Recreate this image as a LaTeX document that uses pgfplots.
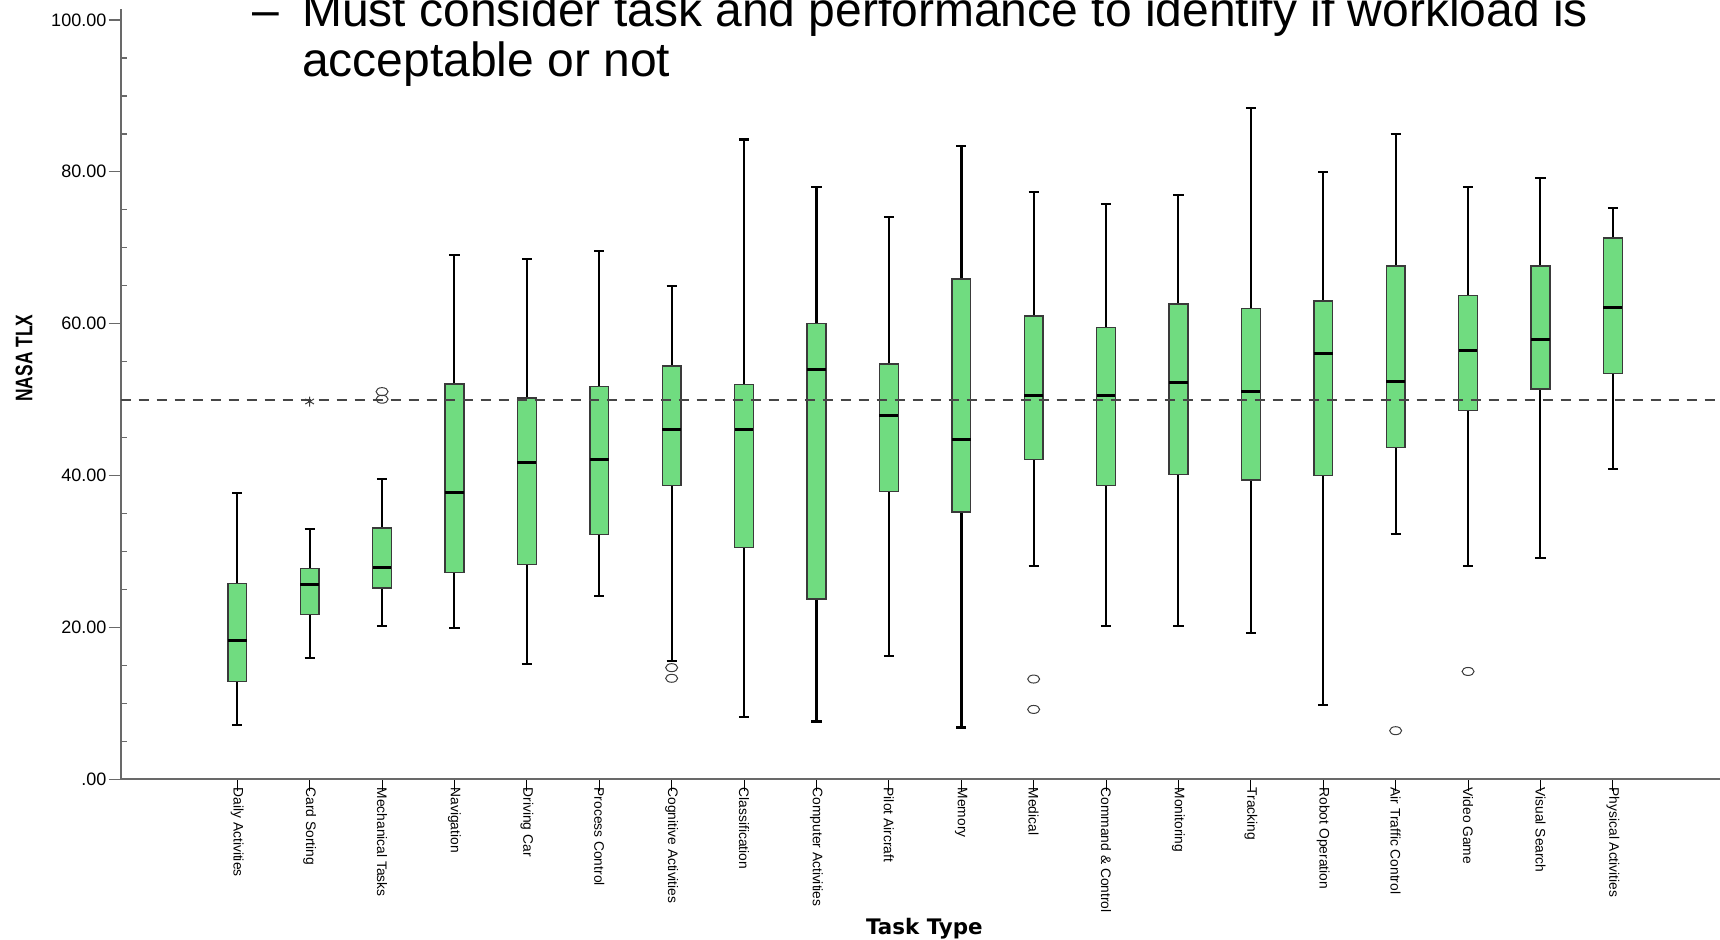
\documentclass[border=0pt]{standalone}
\usepackage{fontspec}
\setmainfont{Liberation Sans}
\newfontfamily\dejavu{DejaVu Sans}
\usepackage{pgfplots}
\pgfplotsset{compat=1.18}
\usepgfplotslibrary{statistics}
\definecolor{boxgreen}{RGB}{112,220,128}
\definecolor{boxgray}{RGB}{58,58,58}
\definecolor{axgray}{RGB}{105,105,105}
\definecolor{dashgray}{RGB}{70,70,70}
\definecolor{outgray}{RGB}{60,60,60}
\begin{document}
\begin{tikzpicture}
\useasboundingbox (-60.35pt,-80.35pt) rectangle (799.65pt,389.65pt);
\clip (-60.35pt,-80.35pt) rectangle (799.65pt,389.65pt);
\begin{axis}[
  at={(0,0)}, anchor=south west,
  scale only axis, width=799.65pt, height=385pt,
  xmin=-0.61, xmax=21.48, ymin=0, ymax=101.4,
  axis lines*=left,
  axis line style={draw=axgray, line width=1pt},
  tick style={draw=axgray, line width=0.7pt},
  tick align=outside,
  xtick={1,...,20},
  xticklabels={Daily Activities, Card Sorting, Mechanical Tasks, Navigation, Driving Car, Process Control, Cognitive Activities, Classification, Computer Activities, Pilot Aircraft, Memory, Medical, Command \& Control, Monitoring, Tracking, Robot Operation, Air Traffic Control, Video Game, Visual Search, Physical Activities},
  xticklabel style={rotate=-90, anchor=west, font=\fontsize{6.9}{7}\selectfont, inner sep=1pt},
  xticklabel shift=-3pt,
  x tick style={draw=black, line width=0.5pt},
  xtick pos=bottom,
  ytick={0,20,40,60,80,100},
  yticklabels={.00,20.00,40.00,60.00,80.00,100.00},
  yticklabel style={font=\fontsize{9}{10}\selectfont, inner sep=1pt},
  ytick pos=left,
  major tick length=6pt,
  extra y ticks={5,10,15,25,30,35,45,50,55,65,70,75,85,90,95},
  extra y tick labels={},
  extra y tick style={tick align=inside, major tick length=3pt},
  boxplot/draw direction=y,
  boxplot/box extend=0.26,
  boxplot/whisker extend=0.14,
  boxplot/every box/.style={draw=boxgray, line width=0.7pt, fill=boxgreen},
  boxplot/every median/.style={draw=black, line width=1.5pt},
  boxplot/every whisker/.style={draw=black, line width=1pt},
  clip=false,
]
\addplot[boxplot prepared={draw position=1, lower whisker=7.2, lower quartile=12.85, median=18.3, upper quartile=25.8, upper whisker=37.7}] coordinates {};
\addplot[boxplot prepared={draw position=2, lower whisker=16.0, lower quartile=21.7, median=25.6, upper quartile=27.75, upper whisker=33.0}] coordinates {};
\addplot[boxplot prepared={draw position=3, lower whisker=20.2, lower quartile=25.2, median=27.9, upper quartile=33.1, upper whisker=39.5}] coordinates {};
\addplot[boxplot prepared={draw position=4, lower whisker=19.9, lower quartile=27.2, median=37.8, upper quartile=52.05, upper whisker=69.0}] coordinates {};
\addplot[boxplot prepared={draw position=5, lower whisker=15.15, lower quartile=28.25, median=41.7, upper quartile=50.2, upper whisker=68.5}] coordinates {};
\addplot[boxplot prepared={draw position=6, lower whisker=24.1, lower quartile=32.2, median=42.1, upper quartile=51.7, upper whisker=69.6}] coordinates {};
\addplot[boxplot prepared={draw position=7, lower whisker=15.6, lower quartile=38.7, median=46.0, upper quartile=54.4, upper whisker=64.9}] coordinates {};
\addplot[boxplot prepared={draw position=8, lower whisker=8.2, lower quartile=30.5, median=46.0, upper quartile=52.0, upper whisker=84.2, every whisker/.style={draw=black, line width=1.4pt}}] coordinates {};
\addplot[boxplot prepared={draw position=9, lower whisker=7.6, lower quartile=23.75, median=54.0, upper quartile=60.0, upper whisker=78.0, every whisker/.style={draw=black, line width=1.4pt}}] coordinates {};
\addplot[boxplot prepared={draw position=10, lower whisker=16.2, lower quartile=37.9, median=47.9, upper quartile=54.7, upper whisker=74.0}] coordinates {};
\addplot[boxplot prepared={draw position=11, lower whisker=6.8, lower quartile=35.2, median=44.8, upper quartile=65.9, upper whisker=83.4, every whisker/.style={draw=black, line width=1.4pt}}] coordinates {};
\addplot[boxplot prepared={draw position=12, lower whisker=28.1, lower quartile=42.1, median=50.6, upper quartile=61.0, upper whisker=77.3}] coordinates {};
\addplot[boxplot prepared={draw position=13, lower whisker=20.2, lower quartile=38.7, median=50.6, upper quartile=59.5, upper whisker=75.7}] coordinates {};
\addplot[boxplot prepared={draw position=14, lower whisker=20.2, lower quartile=40.1, median=52.3, upper quartile=62.6, upper whisker=77.0}] coordinates {};
\addplot[boxplot prepared={draw position=15, lower whisker=19.25, lower quartile=39.4, median=51.1, upper quartile=62.0, upper whisker=88.4}] coordinates {};
\addplot[boxplot prepared={draw position=16, lower whisker=9.8, lower quartile=40.0, median=56.1, upper quartile=63.0, upper whisker=80.0}] coordinates {};
\addplot[boxplot prepared={draw position=17, lower whisker=32.3, lower quartile=43.7, median=52.4, upper quartile=67.6, upper whisker=85.0}] coordinates {};
\addplot[boxplot prepared={draw position=18, lower whisker=28.1, lower quartile=48.6, median=56.5, upper quartile=63.7, upper whisker=78.0}] coordinates {};
\addplot[boxplot prepared={draw position=19, lower whisker=29.1, lower quartile=51.4, median=57.9, upper quartile=67.6, upper whisker=79.2}] coordinates {};
\addplot[boxplot prepared={draw position=20, lower whisker=40.9, lower quartile=53.4, median=62.1, upper quartile=71.3, upper whisker=75.2}] coordinates {};
% reference line at 50
\addplot[dashgray, line width=0.9pt, dash pattern=on 5pt off 4pt] coordinates {(-0.61,50) (21.48,50)};
% outliers
\addplot[only marks, mark=o, mark size=2pt, mark options={xscale=1.5, draw=outgray, line width=0.5pt}] coordinates {(3,50.05) (3,51.05) (7,14.7) (7,13.3) (12,13.2) (12,9.2) (17,6.4) (18,14.2)};
\addplot[only marks, mark=asterisk, mark size=2.5pt, mark options={draw=outgray, line width=0.5pt}] coordinates {(2,49.75)};
\end{axis}
% overlaid slide text
\node[anchor=base west, inner sep=0pt, font=\fontsize{24}{25.25}\selectfont] at (65.65pt,376.5pt) {–};
\node[anchor=base west, inner sep=0pt, font=\fontsize{24}{25.25}\selectfont] at (90.5pt,376.5pt) {Must consider task and performance to identify if workload is};
\node[anchor=base west, inner sep=0pt, font=\fontsize{24}{25.25}\selectfont] at (90.5pt,351.25pt) {acceptable or not};
% axis titles
\node[rotate=90, inner sep=0pt, font=\fontsize{12}{13}\selectfont\bfseries] at (-48.35pt,210.55pt) {\scalebox{0.725}[1]{NASA TLX}};
\node[anchor=base, inner sep=0pt, font=\fontsize{10.7}{12}\selectfont\dejavu\bfseries] at (401.85pt,-77.85pt) {Task Type};
\end{tikzpicture}
\end{document}
